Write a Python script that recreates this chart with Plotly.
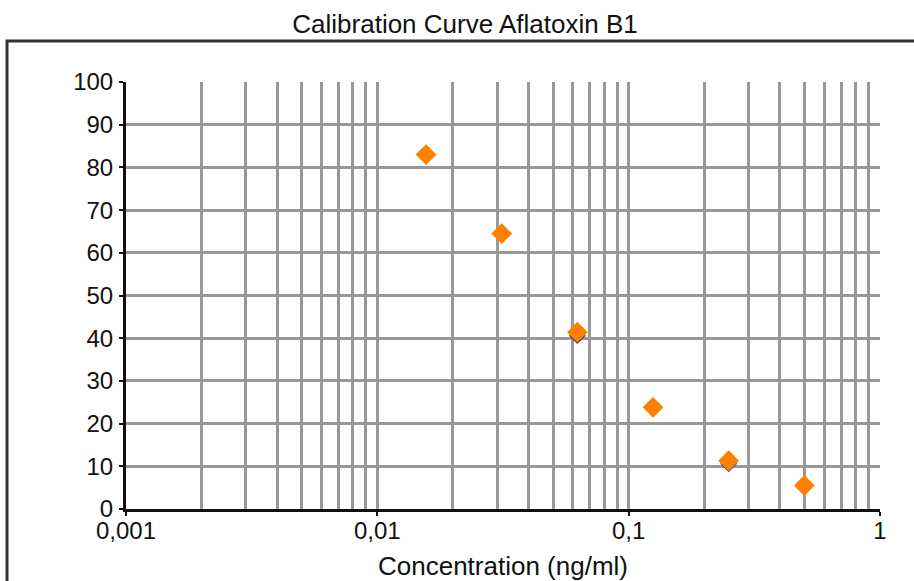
import plotly.graph_objects as go

title_text = "Calibration Curve Aflatoxin B1"
x_title = "Concentration (ng/ml)"
concentration = [0.015625, 0.03125, 0.0625, 0.125, 0.25, 0.5]
binding_pct = [83.0, 64.5, 41.4, 23.8, 11.3, 5.5]
fit_pct = [83.0, 64.5, 40.6, 23.8, 10.6, 5.5]
x_tickvals = [0.001, 0.01, 0.1, 1]
x_ticktext = ["0,001", "0,01", "0,1", "1"]
y_tickvals = [0, 10, 20, 30, 40, 50, 60, 70, 80, 90, 100]

minor_vals = [m * d for d in (0.001, 0.01, 0.1) for m in range(2, 10)]

font_family = "Liberation Sans, Arial, sans-serif"
grid_col = "#999999"

fig = go.Figure()
fig.add_trace(go.Scatter(
    x=concentration, y=fit_pct, mode="markers",
    marker=dict(symbol="diamond", size=13, color="#3a3a8c"),
    showlegend=False, cliponaxis=False))
fig.add_trace(go.Scatter(
    x=concentration, y=binding_pct, mode="markers",
    marker=dict(symbol="diamond", size=16, color="#ff8000"),
    showlegend=False, cliponaxis=False))

fig.update_layout(
    width=914, height=581,
    margin=dict(l=126, r=34, t=82, b=72),
    paper_bgcolor="white", plot_bgcolor="white",
    font=dict(family=font_family, color="#111111", size=24),
    title=dict(text=title_text, x=465 / 914, xref="container", xanchor="center",
               y=1 - 24 / 581, yref="container", yanchor="middle",
               font=dict(size=26, color="#111111")),
    xaxis=dict(type="log", range=[-3, 0], tickvals=x_tickvals, ticktext=x_ticktext,
               automargin=False,
               showgrid=True, gridcolor=grid_col, gridwidth=3,
               minor=dict(tickvals=minor_vals, showgrid=True, gridcolor=grid_col,
                          gridwidth=3, ticks=""),
               showline=True, linecolor="#111", linewidth=3,
               ticks="outside", ticklen=4, tickcolor="#111", tickwidth=2,
               ticklabelstandoff=-6,
               zeroline=False,
               title=dict(text=x_title, font=dict(size=26), standoff=17),
               tickfont=dict(size=24)),
    yaxis=dict(range=[0, 100], tickvals=y_tickvals, automargin=False,
               showgrid=True, gridcolor=grid_col, gridwidth=3,
               showline=True, linecolor="#111", linewidth=3,
               ticks="outside", ticklen=4, tickcolor="#111", tickwidth=2,
               ticklabelstandoff=1,
               zeroline=False, tickfont=dict(size=24)),
    shapes=[dict(type="rect", xref="paper", yref="paper",
                 x0=(7 - 126) / 754, x1=1.2, y0=-0.4, y1=(509 - 41) / 427,
                 line=dict(color="#333", width=3), layer="below")],
)

fig.write_html("out.html", config={"displayModeBar": False},
               post_script="document.body.style.margin='0px';document.body.style.overflow='hidden';")
